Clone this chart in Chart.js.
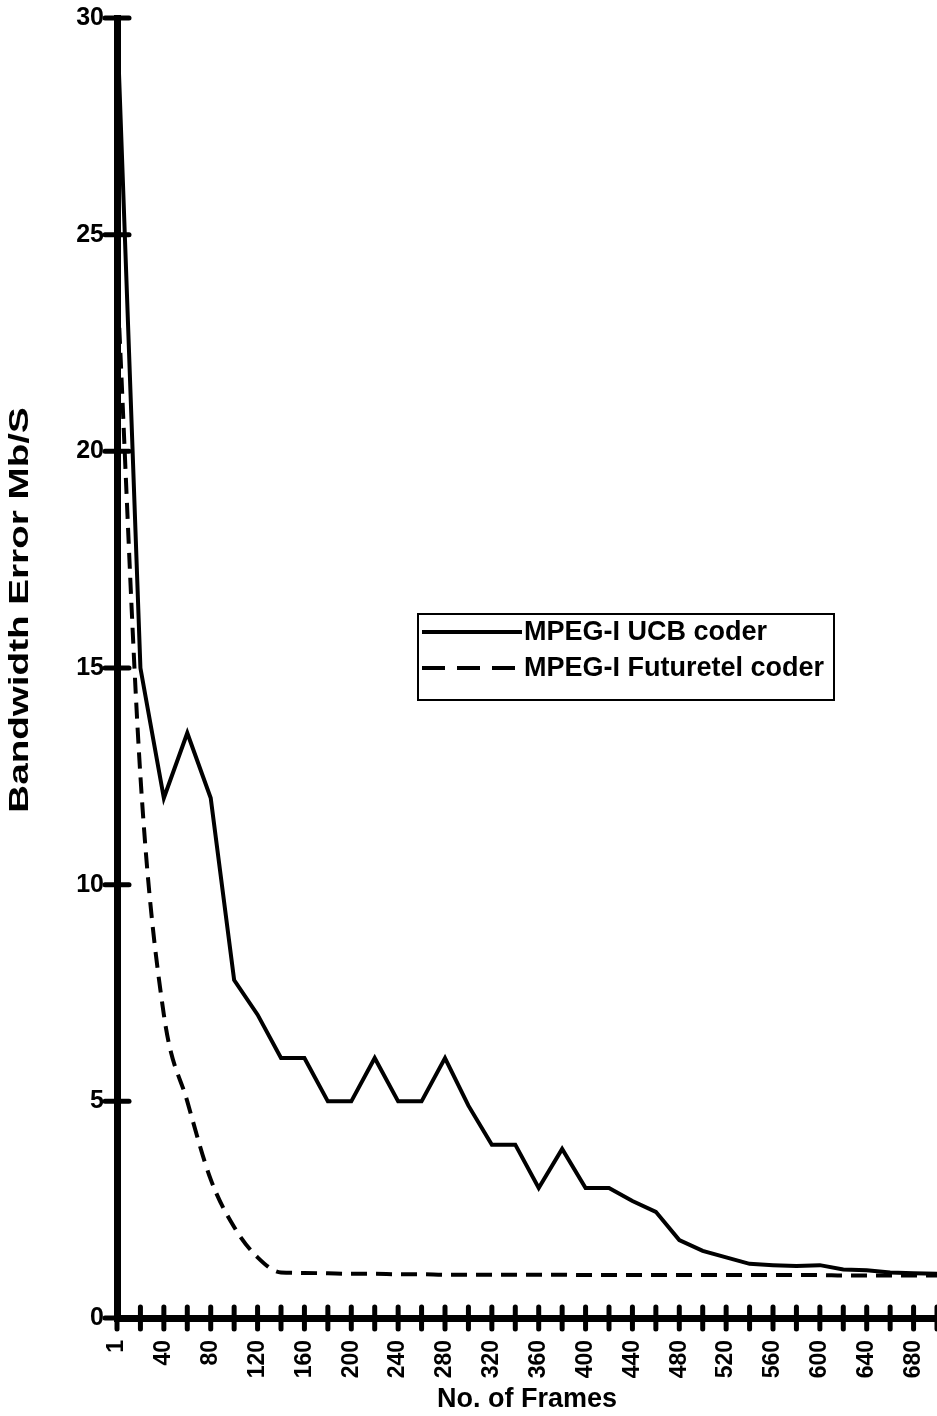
<!DOCTYPE html>
<html lang="en">
<head>
<meta charset="UTF-8">
<title>Bandwidth Error vs No. of Frames</title>
<script src="https://cdn.jsdelivr.net/npm/chart.js"></script>
<style>
  html, body { margin: 0; padding: 0; background: #fff; overflow: hidden; }
  .chart-container { position: relative; width: 937px; height: 1416px; }
</style>
</head>
<body>
<div class="chart-container"><canvas id="bwChart"></canvas></div>
<script>
// one point every 20 frames
const frames = ['1', '20', '40', '60', '80', '100', '120', '140', '160', '180',
                '200', '220', '240', '260', '280', '300', '320', '340', '360', '380',
                '400', '420', '440', '460', '480', '500', '520', '540', '560', '580',
                '600', '620', '640', '660', '680', '700'];

// Bandwidth error (Mb/S)
const ucbCoder = [30, 15, 12, 13.5, 12, 7.8, 7.0, 6.0, 6.0, 5.0,
                  5.0, 6.0, 5.0, 5.0, 6.0, 4.9, 4.0, 4.0, 3.0, 3.9,
                  3.0, 3.0, 2.7, 2.45, 1.8, 1.55, 1.4, 1.25, 1.22, 1.2,
                  1.22, 1.12, 1.1, 1.05, 1.03, 1.02];
const futuretelCoder = [24, 12.5, 7.0, 5.0, 3.2, 2.1, 1.4, 1.05, 1.04, 1.03,
                        1.02, 1.02, 1.01, 1.01, 1.0, 1.0, 1.0, 1.0, 1.0, 1.0,
                        0.99, 0.99, 0.99, 0.99, 0.99, 0.99, 0.99, 0.99, 0.99, 0.99,
                        0.99, 0.98, 0.98, 0.98, 0.98, 0.98];

const seriesNames = ['MPEG-I UCB coder', 'MPEG-I Futuretel coder'];
const yTitle = 'Bandwidth Error Mb/S';
const yMin = 0, yMax = 30, yStep = 5;

const FONT = '"Liberation Sans", Arial, Helvetica, sans-serif';

// tick marks that cross the axis lines, like the original
const crossTicks = {
    id: 'crossTicks',
    afterDraw(chart) {
        const {ctx, chartArea, scales} = chart;
        ctx.save();
        ctx.strokeStyle = '#000';
        ctx.lineCap = 'round';
        ctx.lineWidth = 5;
        scales.x.ticks.forEach((t, i) => {
            const x = scales.x.getPixelForTick(i);
            ctx.beginPath();
            ctx.moveTo(x, chartArea.bottom - 11);
            ctx.lineTo(x, chartArea.bottom + 11);
            ctx.stroke();
        });
        scales.y.ticks.forEach((t, i) => {
            const y = scales.y.getPixelForTick(i);
            ctx.beginPath();
            ctx.moveTo(chartArea.left - 12, y);
            ctx.lineTo(chartArea.left + 12, y);
            ctx.stroke();
        });
        ctx.restore();
    }
};

// y title: the scan has it drawn long and a bit above the middle
const yTitlePlugin = {
    id: 'yTitlePlugin',
    afterDraw(chart) {
        const ctx = chart.ctx;
        ctx.save();
        ctx.fillStyle = '#000';
        ctx.font = 'bold 27px ' + FONT;
        ctx.textAlign = 'center';
        ctx.textBaseline = 'middle';
        ctx.translate(21, 610);
        ctx.rotate(-Math.PI / 2);
        ctx.scale(1.43, 1);
        ctx.fillText(yTitle, 0, 0);
        ctx.restore();
    }
};

// boxed legend sitting inside the plot
const boxLegend = {
    id: 'boxLegend',
    afterDraw(chart) {
        const ctx = chart.ctx;
        const bx = 418, by = 614, bw = 416, bh = 86;
        ctx.save();
        ctx.strokeStyle = '#000';
        ctx.fillStyle = '#000';
        ctx.lineWidth = 2;
        ctx.strokeRect(bx, by, bw, bh);
        ctx.font = 'bold 27px ' + FONT;
        ctx.textBaseline = 'middle';
        chart.data.datasets.forEach((ds, i) => {
            const y = by + 18 + i * 36;
            ctx.lineWidth = 4;
            ctx.setLineDash(ds.borderDash ? [23, 12] : []);
            ctx.beginPath();
            ctx.moveTo(bx + 4, y);
            ctx.lineTo(bx + 104, y);
            ctx.stroke();
            ctx.setLineDash([]);
            ctx.fillText(ds.label, bx + 106, y + 1);
        });
        ctx.restore();
    }
};

new Chart(document.getElementById('bwChart'), {
    type: 'line',
    data: {
        labels: frames,
        datasets: [
            {
                label: seriesNames[0],
                data: ucbCoder,
                borderColor: '#000',
                borderWidth: 4,
                pointRadius: 0,
                tension: 0,
                clip: false
            },
            {
                label: seriesNames[1],
                data: futuretelCoder,
                borderColor: '#000',
                borderWidth: 4,
                borderDash: [16, 9],
                pointRadius: 0,
                cubicInterpolationMode: 'monotone',
                clip: false
            }
        ]
    },
    options: {
        responsive: true,
        maintainAspectRatio: false,
        animation: false,
        layout: { padding: { top: 18, left: 0, right: 0, bottom: 0 } },
        plugins: {
            legend: { display: false },
            tooltip: { enabled: false }
        },
        scales: {
            x: {
                offset: false,
                grid: { display: false, drawTicks: false },
                border: { display: true, color: '#000', width: 7 },
                ticks: {
                    color: '#000',
                    autoSkip: false,
                    maxRotation: 90,
                    minRotation: 90,
                    padding: 22,
                    font: { family: FONT, size: 23, weight: 'bold' },
                    callback: (val, i) => (i % 2 === 0 ? frames[i] : '')
                },
                title: {
                    display: true,
                    text: 'No. of Frames',
                    color: '#000',
                    padding: { top: 0, bottom: 0 },
                    font: { family: FONT, size: 27, weight: 'bold' }
                },
                afterFit: (s) => {
                    s.height = 98;
                    s.paddingLeft = 0;
                    s.paddingRight = 0;
                }
            },
            y: {
                min: yMin,
                max: yMax,
                grid: { display: false, drawTicks: false },
                border: { display: true, color: '#000', width: 7 },
                ticks: {
                    stepSize: yStep,
                    color: '#000',
                    padding: 13,
                    font: { family: FONT, size: 25, weight: 'bold' }
                },
                title: { display: false },
                afterFit: (s) => {
                    s.width = 117;
                    s.paddingTop = 0;
                    s.paddingBottom = 0;
                }
            }
        }
    },
    plugins: [crossTicks, yTitlePlugin, boxLegend]
});
</script>
</body>
</html>
